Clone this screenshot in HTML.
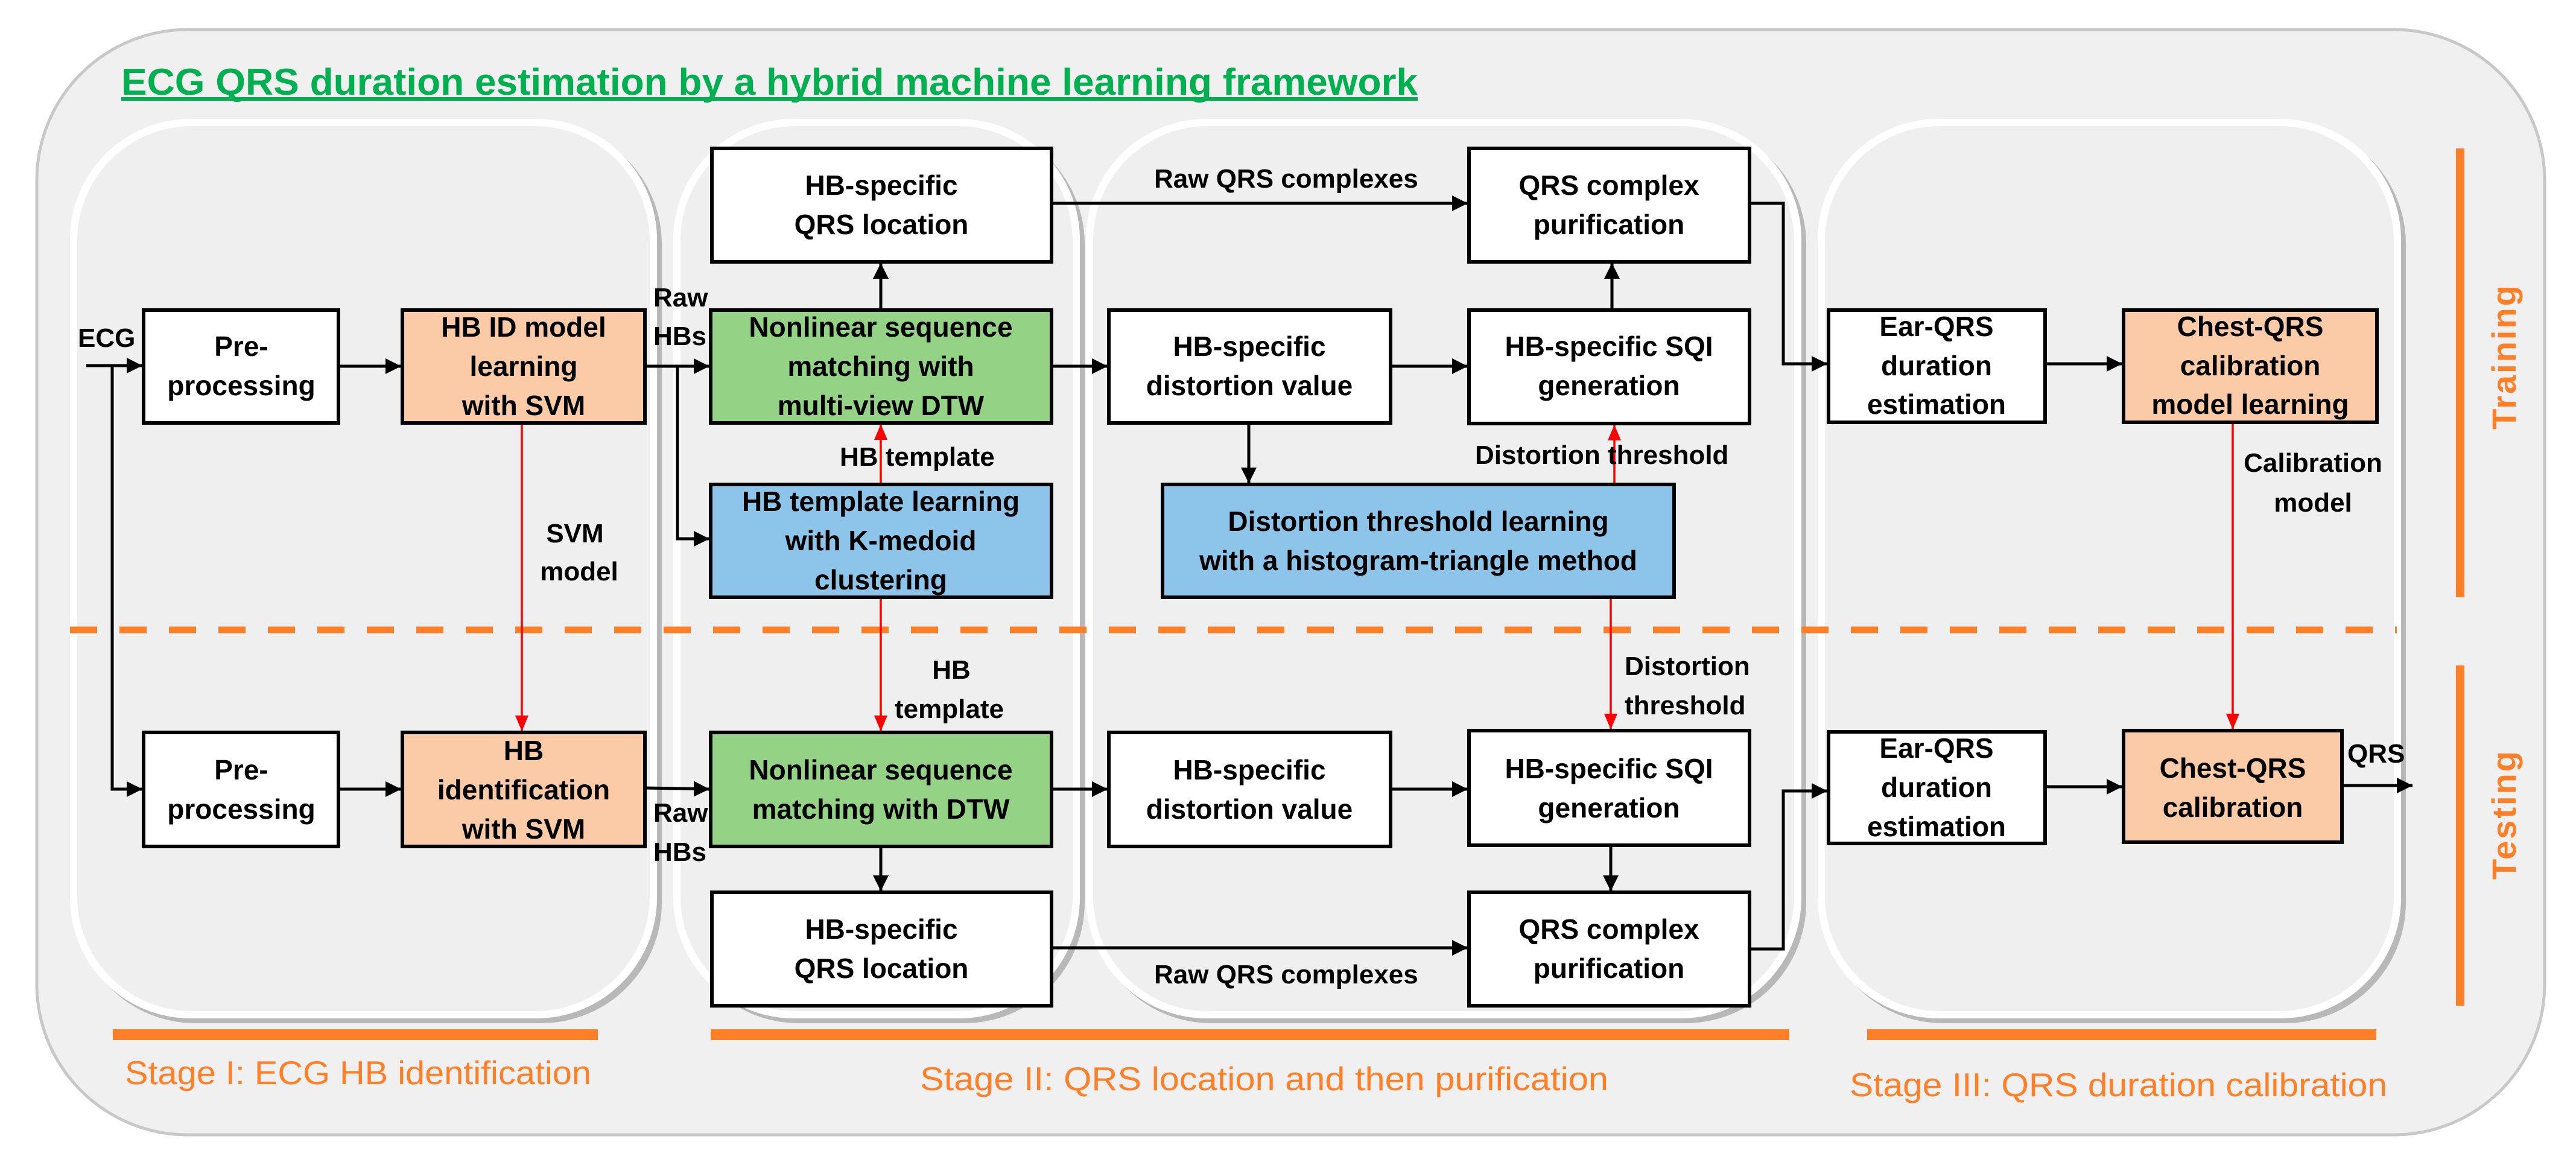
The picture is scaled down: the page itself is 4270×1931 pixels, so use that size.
<!DOCTYPE html>
<html><head><meta charset="utf-8"><style>
html,body{margin:0;padding:0;background:#fff;}
svg{display:block;}
text{font-family:"Liberation Sans",sans-serif;}
.b{font-size:46px;font-weight:bold;fill:#000;text-anchor:middle;}
.l{font-size:44px;font-weight:bold;fill:#000;}
.s{font-size:55px;fill:#ff7f27;}
</style></head><body>
<svg width="4270" height="1931" viewBox="0 0 4270 1931" xmlns="http://www.w3.org/2000/svg">
<defs>
<marker id="ak" markerUnits="userSpaceOnUse" markerWidth="30" markerHeight="30" refX="26" refY="13" orient="auto"><path d="M0,0 L26,13 L0,26 Z" fill="#000"/></marker>
<marker id="ar" markerUnits="userSpaceOnUse" markerWidth="30" markerHeight="30" refX="26" refY="11" orient="auto"><path d="M0,0 L26,11 L0,22 Z" fill="#ff0000"/></marker>
</defs>
<rect x="0" y="0" width="4270" height="1931" fill="#fff"/>
<rect x="61" y="49" width="4157" height="1832" rx="250" ry="250" fill="#f0f0f0" stroke="#c8c8c8" stroke-width="5"/>
<text x="201" y="157" font-size="62" font-weight="bold" fill="#00b050" textLength="2149" lengthAdjust="spacingAndGlyphs">ECG QRS duration estimation by a hybrid machine learning framework</text>
<rect x="201" y="161" width="2149" height="6" fill="#00b050"/>
<g>
<rect x="124" y="205" width="973" height="1491" rx="200" fill="#b8b8b8"/>
<rect x="116" y="197" width="973" height="1491" rx="200" fill="#ffffff"/>
<rect x="128" y="209" width="949" height="1467" rx="190" fill="#efefef"/>
<rect x="1124" y="205" width="674" height="1491" rx="200" fill="#b8b8b8"/>
<rect x="1116" y="197" width="674" height="1491" rx="200" fill="#ffffff"/>
<rect x="1128" y="209" width="650" height="1467" rx="190" fill="#efefef"/>
<rect x="1808" y="205" width="1186" height="1491" rx="200" fill="#b8b8b8"/>
<rect x="1800" y="197" width="1186" height="1491" rx="200" fill="#ffffff"/>
<rect x="1812" y="209" width="1162" height="1467" rx="190" fill="#efefef"/>
<rect x="3021" y="205" width="967" height="1491" rx="200" fill="#b8b8b8"/>
<rect x="3013" y="197" width="967" height="1491" rx="200" fill="#ffffff"/>
<rect x="3025" y="209" width="943" height="1467" rx="190" fill="#efefef"/>
</g>
<line x1="116" y1="1044" x2="3973" y2="1044" stroke="#ff7f27" stroke-width="11" stroke-dasharray="45 37"/>
<line x1="4078" y1="246" x2="4078" y2="990" stroke="#ff7f27" stroke-width="14"/>
<line x1="4078" y1="1103" x2="4078" y2="1667" stroke="#ff7f27" stroke-width="14"/>
<text x="4170" y="591" font-size="56" font-weight="bold" fill="#ff7f27" text-anchor="middle" transform="rotate(-90 4170 591)" letter-spacing="3">Training</text>
<text x="4170" y="1350" font-size="56" font-weight="bold" fill="#ff7f27" text-anchor="middle" transform="rotate(-90 4170 1350)" letter-spacing="3">Testing</text>
<rect x="187" y="1706" width="804" height="18" fill="#ff7f27"/>
<rect x="1178" y="1706" width="1788" height="18" fill="#ff7f27"/>
<rect x="3095" y="1706" width="844" height="18" fill="#ff7f27"/>
<text class="s" x="207" y="1797" textLength="773" lengthAdjust="spacingAndGlyphs">Stage I: ECG HB identification</text>
<text class="s" x="1525" y="1807" textLength="1141" lengthAdjust="spacingAndGlyphs">Stage II: QRS location and then purification</text>
<text class="s" x="3066" y="1817" textLength="891" lengthAdjust="spacingAndGlyphs">Stage III: QRS duration calibration</text>

<g stroke="#000" stroke-width="5" fill="none">
<line x1="143" y1="606" x2="236" y2="606" marker-end="url(#ak)"/>
<polyline points="186,606 186,1308 236,1308" marker-end="url(#ak)"/>
<line x1="561" y1="607" x2="665" y2="607" marker-end="url(#ak)"/>
<line x1="561" y1="1308" x2="665" y2="1308" marker-end="url(#ak)"/>
<line x1="1069" y1="607" x2="1176" y2="607" marker-end="url(#ak)"/>
<polyline points="1123,607 1123,893 1176,893" marker-end="url(#ak)"/>
<line x1="1069" y1="1306" x2="1176" y2="1308" marker-end="url(#ak)"/>
<line x1="1460" y1="514" x2="1460" y2="436" marker-end="url(#ak)"/>
<line x1="1460" y1="1403" x2="1460" y2="1477" marker-end="url(#ak)"/>
<line x1="1743" y1="607" x2="1836" y2="607" marker-end="url(#ak)"/>
<line x1="1743" y1="1308" x2="1836" y2="1308" marker-end="url(#ak)"/>
<line x1="1743" y1="337" x2="2433" y2="337" marker-end="url(#ak)"/>
<line x1="1743" y1="1571" x2="2433" y2="1571" marker-end="url(#ak)"/>
<line x1="2305" y1="607" x2="2433" y2="607" marker-end="url(#ak)"/>
<line x1="2305" y1="1308" x2="2433" y2="1308" marker-end="url(#ak)"/>
<line x1="2070" y1="701" x2="2070" y2="801" marker-end="url(#ak)"/>
<line x1="2672" y1="514" x2="2672" y2="436" marker-end="url(#ak)"/>
<line x1="2670" y1="1401" x2="2670" y2="1477" marker-end="url(#ak)"/>
<polyline points="2900,337 2956,337 2956,603 3029,603" marker-end="url(#ak)"/>
<polyline points="2900,1573 2956,1573 2956,1311 3029,1311" marker-end="url(#ak)"/>
<line x1="3390" y1="603" x2="3518" y2="603" marker-end="url(#ak)"/>
<line x1="3390" y1="1304" x2="3518" y2="1304" marker-end="url(#ak)"/>
<line x1="3882" y1="1302" x2="3999" y2="1302" marker-end="url(#ak)"/>
</g>
<g stroke="#ff0000" stroke-width="3.5" fill="none">
<line x1="865" y1="701" x2="865" y2="1212" marker-end="url(#ar)"/>
<line x1="1460" y1="803" x2="1460" y2="703" marker-end="url(#ar)"/>
<line x1="1460" y1="990" x2="1460" y2="1212" marker-end="url(#ar)"/>
<line x1="2676" y1="803" x2="2676" y2="704" marker-end="url(#ar)"/>
<line x1="2670" y1="990" x2="2670" y2="1209" marker-end="url(#ar)"/>
<line x1="3701" y1="702" x2="3701" y2="1209" marker-end="url(#ar)"/>
</g>

<g stroke="#000" stroke-width="6">
<rect x="238" y="514" width="323" height="187" fill="#fff"/>
<rect x="667" y="514" width="402" height="187" fill="#fbcaa6"/>
<rect x="1178" y="514" width="565" height="187" fill="#94d385"/>
<rect x="1180" y="246" width="563" height="188" fill="#fff"/>
<rect x="1178" y="803" width="565" height="187" fill="#8dc4e9"/>
<rect x="1838" y="514" width="467" height="187" fill="#fff"/>
<rect x="1927" y="803" width="848" height="187" fill="#8dc4e9"/>
<rect x="2435" y="514" width="465" height="188" fill="#fff"/>
<rect x="2435" y="246" width="465" height="188" fill="#fff"/>
<rect x="3031" y="514" width="359" height="186" fill="#fff"/>
<rect x="3520" y="514" width="420" height="186" fill="#fbcaa6"/>
<rect x="238" y="1214" width="323" height="189" fill="#fff"/>
<rect x="667" y="1214" width="402" height="189" fill="#fbcaa6"/>
<rect x="1178" y="1214" width="565" height="189" fill="#94d385"/>
<rect x="1180" y="1479" width="563" height="188" fill="#fff"/>
<rect x="1838" y="1214" width="467" height="189" fill="#fff"/>
<rect x="2435" y="1211" width="465" height="190" fill="#fff"/>
<rect x="2435" y="1479" width="465" height="188" fill="#fff"/>
<rect x="3031" y="1213" width="359" height="185" fill="#fff"/>
<rect x="3520" y="1211" width="362" height="185" fill="#fbcaa6"/>
</g>

<text class="b" x="400" y="590">Pre-</text><text class="b" x="400" y="655">processing</text>
<text class="b" x="868" y="558">HB ID model</text><text class="b" x="868" y="623">learning</text><text class="b" x="868" y="688">with SVM</text>
<text class="b" x="1460" y="558">Nonlinear sequence</text><text class="b" x="1460" y="623">matching with</text><text class="b" x="1460" y="688">multi-view DTW</text>
<text class="b" x="1461" y="323">HB-specific</text><text class="b" x="1461" y="388">QRS location</text>
<text class="b" x="1460" y="847">HB template learning</text><text class="b" x="1460" y="912">with K-medoid</text><text class="b" x="1460" y="977">clustering</text>
<text class="b" x="2071" y="590">HB-specific</text><text class="b" x="2071" y="655">distortion value</text>
<text class="b" x="2351" y="880">Distortion threshold learning</text><text class="b" x="2351" y="945">with a histogram-triangle method</text>
<text class="b" x="2667" y="590">HB-specific SQI</text><text class="b" x="2667" y="655">generation</text>
<text class="b" x="2667" y="323">QRS complex</text><text class="b" x="2667" y="388">purification</text>
<text class="b" x="3210" y="557">Ear-QRS</text><text class="b" x="3210" y="622">duration</text><text class="b" x="3210" y="686">estimation</text>
<text class="b" x="3730" y="557">Chest-QRS</text><text class="b" x="3730" y="622">calibration</text><text class="b" x="3730" y="686">model learning</text>
<text class="b" x="400" y="1292">Pre-</text><text class="b" x="400" y="1357">processing</text>
<text class="b" x="868" y="1260">HB</text><text class="b" x="868" y="1325">identification</text><text class="b" x="868" y="1390">with SVM</text>
<text class="b" x="1460" y="1292">Nonlinear sequence</text><text class="b" x="1460" y="1357">matching with DTW</text>
<text class="b" x="1461" y="1556">HB-specific</text><text class="b" x="1461" y="1621">QRS location</text>
<text class="b" x="2071" y="1292">HB-specific</text><text class="b" x="2071" y="1357">distortion value</text>
<text class="b" x="2667" y="1290">HB-specific SQI</text><text class="b" x="2667" y="1355">generation</text>
<text class="b" x="2667" y="1556">QRS complex</text><text class="b" x="2667" y="1621">purification</text>
<text class="b" x="3210" y="1256">Ear-QRS</text><text class="b" x="3210" y="1321">duration</text><text class="b" x="3210" y="1386">estimation</text>
<text class="b" x="3701" y="1289">Chest-QRS</text><text class="b" x="3701" y="1354">calibration</text>

<text class="l" x="129" y="575">ECG</text>
<text class="l" x="1083" y="508">Raw</text><text class="l" x="1083" y="572">HBs</text>
<text class="l" x="1083" y="1362">Raw</text><text class="l" x="1083" y="1427">HBs</text>
<text class="l" x="953" y="899" text-anchor="middle">SVM</text><text class="l" x="960" y="962" text-anchor="middle">model</text>
<text class="l" x="1392" y="772">HB template</text>
<text class="l" x="1577" y="1125" text-anchor="middle">HB</text><text class="l" x="1483" y="1190">template</text>
<text class="l" x="1913" y="311">Raw QRS complexes</text>
<text class="l" x="1913" y="1630">Raw QRS complexes</text>
<text class="l" x="2445" y="769">Distortion threshold</text>
<text class="l" x="2693" y="1119">Distortion</text><text class="l" x="2693" y="1184">threshold</text>
<text class="l" x="3834" y="782" text-anchor="middle">Calibration</text><text class="l" x="3834" y="848" text-anchor="middle">model</text>
<text class="l" x="3891" y="1264">QRS</text>
</svg>
</body></html>
